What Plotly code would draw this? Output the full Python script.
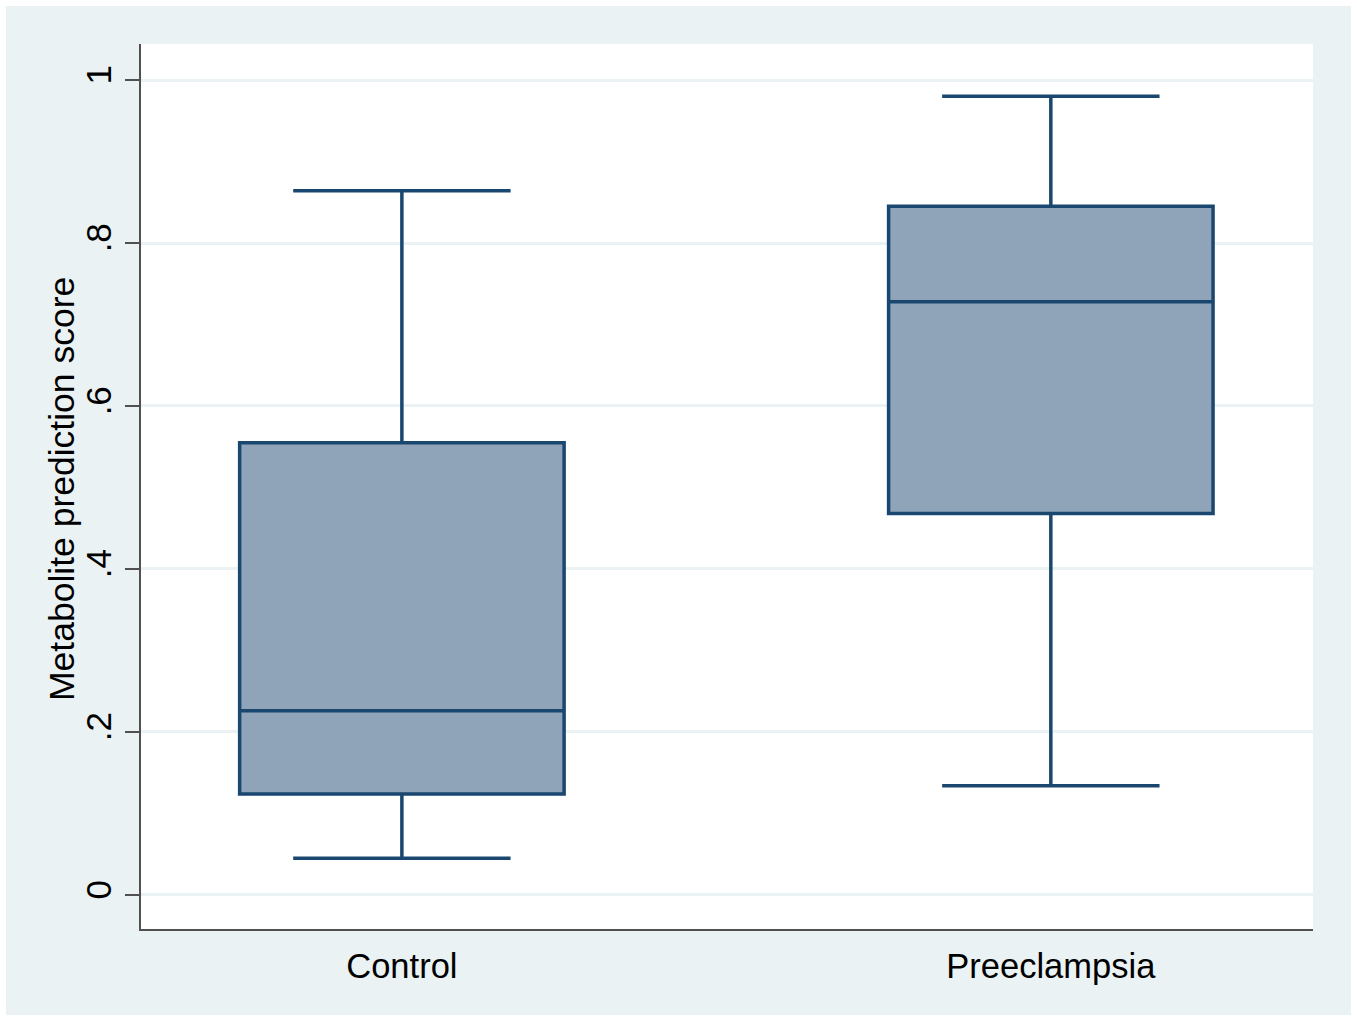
import plotly.graph_objects as go

# Summary statistics of the metabolite prediction score by group
groups = ["Control", "Preeclampsia"]
lower_whisker = [0.045, 0.134]
q1 = [0.124, 0.468]
median = [0.226, 0.728]
q3 = [0.555, 0.845]
upper_whisker = [0.864, 0.980]

y_ticks = [0, 0.2, 0.4, 0.6, 0.8, 1]
y_tick_labels = ["0", ".2", ".4", ".6", ".8", "1"]

BG = "#EAF2F3"
NAVY = "#1A476F"
FILL = "#8FA4B8"
AXIS = "#505050"
FONT = "Liberation Sans, Arial, sans-serif"

fig = go.Figure()
fig.add_trace(go.Box(
    x=groups,
    q1=q1,
    median=median,
    q3=q3,
    lowerfence=lower_whisker,
    upperfence=upper_whisker,
    width=0.5,
    whiskerwidth=0.67,
    fillcolor=FILL,
    line=dict(color=NAVY, width=3.5),
    boxpoints=False,
    hoverinfo="skip",
    showlegend=False,
))

W, H = 1357, 1021
ml, mr, mt, mb = 141, 44, 44, 92
pw, ph = W - ml - mr, H - mt - mb

fig.update_layout(
    width=W,
    height=H,
    margin=dict(l=ml, r=mr, t=mt, b=mb, pad=0),
    paper_bgcolor=BG,
    plot_bgcolor="white",
    font=dict(family=FONT, size=34, color="black"),
    xaxis=dict(
        type="category",
        range=[-0.402, 1.404],
        showline=True,
        linecolor=AXIS,
        linewidth=2,
        ticks="",
        showgrid=False,
        tickfont=dict(size=34.5),
        ticklabelstandoff=6,
        zeroline=False,
    ),
    yaxis=dict(
        range=[-0.0418, 1.0442],
        tickvals=y_ticks,
        ticktext=y_tick_labels,
        tickangle=-90,
        ticks="outside",
        ticklen=14,
        tickwidth=2,
        tickcolor=AXIS,
        showline=True,
        linecolor=AXIS,
        linewidth=2,
        showgrid=True,
        gridcolor=BG,
        gridwidth=3,
        zeroline=False,
        tickfont=dict(size=35),
    ),
    annotations=[dict(
        text="Metabolite prediction score",
        textangle=-90,
        xref="paper", yref="paper",
        x=-(ml - 62) / pw, y=(H - mb - 489) / ph,
        xanchor="center", yanchor="middle",
        showarrow=False,
        font=dict(size=35.5),
    )],
    # white border framing the light background
    shapes=[dict(
        type="rect",
        xref="paper", yref="paper",
        x0=-ml / pw, x1=1 + mr / pw,
        y0=-mb / ph, y1=1 + mt / ph,
        line=dict(color="white", width=12),
        fillcolor="rgba(0,0,0,0)",
        layer="below",
    )],
)

fig.write_html("out.html")
